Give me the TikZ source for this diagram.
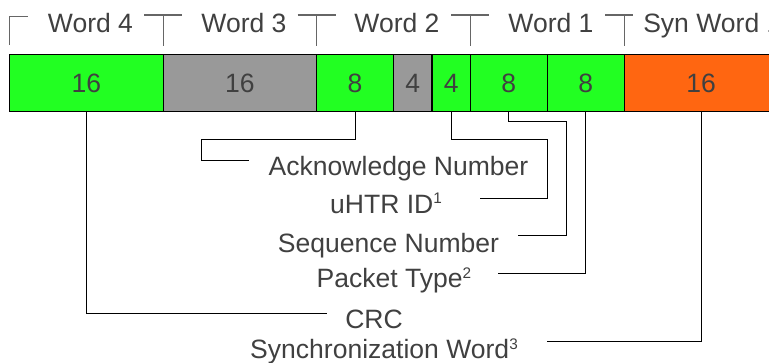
\documentclass[tikz,border=0pt]{standalone}
\usepackage{fontspec}
\setmainfont{Liberation Sans}
\usetikzlibrary{calc}
\definecolor{bitgreen}{HTML}{22FF22}
\definecolor{bitgray}{HTML}{999999}
\definecolor{bitorange}{HTML}{FF6611}
\definecolor{inkgray}{HTML}{404040}
\newcommand\bitfield[5]{% name, left, right, colour, bits
  \node[field, fill=#4, minimum width={(#3-#2)*0.75pt}] (#1) at ({(#2+#3)/2},83) {#5};
}
\newcommand\notemark[1]{\raisebox{6.8pt}{\fontsize{11.5}{12}\selectfont #1}}
\begin{document}
\begin{tikzpicture}[x=0.75pt,y=-0.75pt,
  field/.style={draw=black, line width=0.9pt, inner sep=0pt, outer sep=0pt,
    minimum height=43pt, text=inkgray, font=\fontsize{19.9}{24}\selectfont},
  wordlabel/.style={anchor=base, inner sep=0pt, text=inkgray, font=\fontsize{19.9}{24}\selectfont},
  bracket/.style={draw=inkgray!80, line width=0.8pt},
  lead/.style={draw=black, line width=0.75pt}]
\useasboundingbox (0,0) rectangle (769,362);
\clip (0,0) rectangle (769,362);
%
\bitfield{crcfield}{9.3}{163.3}{bitgreen}{16}
\bitfield{resfield}{163.3}{316.7}{bitgray}{16}
\bitfield{ackfield}{316.7}{393.3}{bitgreen}{8}
\bitfield{padfield}{393.3}{432}{bitgray}{4}
\bitfield{uidfield}{432}{470.3}{bitgreen}{4}
\bitfield{seqfield}{470.3}{547.3}{bitgreen}{8}
\bitfield{typefield}{547.3}{624.3}{bitgreen}{8}
\bitfield{syncfield}{624.3}{778}{bitorange}{16}
%
\draw[bracket] (9.3,45) |- (28.3,16.7);
\foreach \x in {163.3,316.7,470.3}
  \draw[bracket] (\x-19,15) -- (\x+19,15) (\x,15) -- (\x,45.7);
\draw[bracket] (605,15) -- (633,15) (624.3,15) -- (624.3,45.7);
\node[wordlabel] (wfour) at (90.5,32) {Word 4};
\node[wordlabel] (wthree) at (244,32) {Word 3};
\node[wordlabel] (wtwo) at (397,32) {Word 2};
\node[wordlabel] (wone) at (551,32) {Word 1};
\node[wordlabel, anchor=base west] (wsyn) at (643,32) {Syn Word 1};
%
\node[wordlabel] (ack) at (398.5,175) {Acknowledge Number};
\node[wordlabel] (uid) at (386,213) {uHTR ID\notemark{1}};
\node[wordlabel] (seq) at (388.5,252) {Sequence Number};
\node[wordlabel] (ptype) at (394,287.5) {Packet Type\notemark{2}};
\node[wordlabel] (crc) at (374,328) {CRC};
\node[wordlabel] (sync) at (384,358.5) {Synchronization Word\notemark{3}};
%
\coordinate (ackend) at (249.3,160);
\coordinate (uidend) at (480,198.3);
\coordinate (seqend) at (518,235);
\coordinate (ptypeend) at (498,273);
\coordinate (crcend) at (327,313.3);
\coordinate (syncend) at (546.7,341.7);
%
\draw[lead] (ackfield.south) |- ++(-153.3,28.3) |- (ackend);
\draw[lead] (uidfield.south) |- ++(96,28.3) |- (uidend);
\draw[lead] (seqfield.south) |- ++(57.9,10) |- (seqend);
\draw[lead] (typefield.south) |- (ptypeend);
\draw[lead] (crcfield.south) |- (crcend);
\draw[lead] (syncfield.south) |- (syncend);
\end{tikzpicture}
\end{document}
